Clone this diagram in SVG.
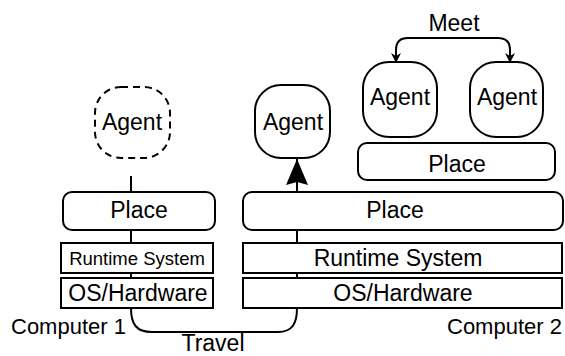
<svg xmlns="http://www.w3.org/2000/svg" width="565" height="356" viewBox="0 0 565 356">
  <style>
    .box { fill: #fff; stroke: #000; stroke-width: 2; }
    .ghost { fill: #fff; stroke: #000; stroke-width: 2; stroke-dasharray: 7 5; }
    .wire { fill: none; stroke: #000; stroke-width: 2; }
    text { font-family: "Liberation Sans", Arial, Helvetica, sans-serif; font-size: 23px; fill: #000; text-anchor: middle; }
    .small { font-size: 18.5px; }
    .lbl { text-anchor: start; font-size: 22px; }
  </style>
  <defs>
    <!-- filled arrowhead, drawn pointing along +x -->
    <marker id="bigHead" viewBox="0 0 26 22" refX="26" refY="11" markerWidth="26" markerHeight="22" markerUnits="userSpaceOnUse" orient="auto-start-reverse">
      <path d="M0,0 L26,11 L0,22 L3,11 Z" fill="#000"/>
    </marker>
    <marker id="smallHead" viewBox="0 0 10 10" refX="10" refY="5" markerWidth="10" markerHeight="10" markerUnits="userSpaceOnUse" orient="auto-start-reverse">
      <path d="M0,0 L10,5 L0,10 L3,5 Z" fill="#000"/>
    </marker>
  </defs>

  <!-- connectors -->
  <g id="connectors">
    <!-- computer 1 stack link -->
    <line class="wire" x1="131" y1="176" x2="131" y2="192"/>
    <line class="wire" x1="131" y1="230" x2="131" y2="243"/>
    <line class="wire" x1="131" y1="273" x2="131" y2="278"/>
    <!-- travel path between computers -->
    <path class="wire" d="M131,308 C131,324 136,332 152,332 L278,332 C292,332 297,324 297,308"/>
    <!-- computer 2 stack link up to the arriving agent -->
    <line class="wire" x1="297" y1="278" x2="297" y2="273"/>
    <line class="wire" x1="297" y1="243" x2="297" y2="230"/>
    <line class="wire" x1="297" y1="192" x2="297" y2="159" marker-end="url(#bigHead)"/>
    <!-- meet link -->
    <path class="wire" d="M396,63 L396,50 Q396,38 408,38 L498,38 Q510,38 510,50 L510,63" marker-start="url(#smallHead)" marker-end="url(#smallHead)"/>
  </g>

  <!-- computer 1 -->
  <g id="agent-left">
    <rect class="ghost" x="95" y="87" width="75" height="71" rx="26"/>
    <text x="132" y="130">Agent</text>
  </g>
  <g id="place-1">
    <rect class="box" x="63" y="192" width="152" height="38" rx="9"/>
    <text x="139" y="218">Place</text>
  </g>
  <g id="runtime-1">
    <rect class="box" x="61" y="243" width="152" height="30"/>
    <text class="small" x="137" y="265">Runtime System</text>
  </g>
  <g id="os-1">
    <rect class="box" x="61" y="278" width="152" height="30"/>
    <text x="138" y="301">OS/Hardware</text>
  </g>
  <g id="computer-1">
    <text class="lbl" x="11" y="334">Computer 1</text>
  </g>
  <g id="travel-label">
    <text x="213" y="351">Travel</text>
  </g>

  <!-- computer 2 -->
  <g id="agent-moved">
    <rect class="box" x="255" y="85" width="75" height="73" rx="26"/>
    <text x="293" y="130">Agent</text>
  </g>
  <g id="agent-meet-a">
    <rect class="box" x="363" y="62" width="74" height="75" rx="26"/>
    <text x="400" y="105">Agent</text>
  </g>
  <g id="agent-meet-b">
    <rect class="box" x="470" y="62" width="73" height="75" rx="26"/>
    <text x="507" y="105">Agent</text>
  </g>
  <g id="meet-label">
    <text x="454" y="31">Meet</text>
  </g>
  <g id="place-small">
    <rect class="box" x="358" y="143" width="197" height="37" rx="9"/>
    <text x="457" y="172">Place</text>
  </g>
  <g id="place-2">
    <rect class="box" x="243" y="192" width="320" height="38" rx="9"/>
    <text x="395" y="218">Place</text>
  </g>
  <g id="runtime-2">
    <rect class="box" x="243" y="243" width="319" height="30"/>
    <text x="398" y="266">Runtime System</text>
  </g>
  <g id="os-2">
    <rect class="box" x="243" y="278" width="319" height="30"/>
    <text x="403" y="301">OS/Hardware</text>
  </g>
  <g id="computer-2">
    <text class="lbl" x="447" y="334">Computer 2</text>
  </g>
</svg>
